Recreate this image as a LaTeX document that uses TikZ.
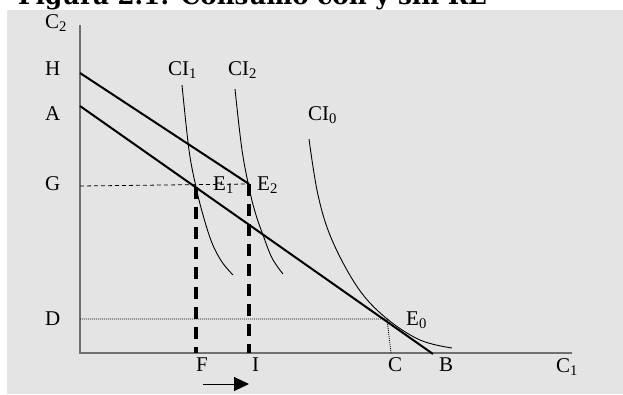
\documentclass[tikz,border=0pt]{standalone}
\usepackage{fontspec}
\setmainfont{Liberation Serif}
\newfontfamily\titlefont{DejaVu Serif}
\usetikzlibrary{arrows.meta}
\definecolor{bggray}{HTML}{E4E4E4}
\definecolor{axisgray}{HTML}{707070}
\begin{document}
\begin{tikzpicture}[x=1pt,y=-1pt,
  lbl/.style={anchor=base west,inner sep=0pt,font=\fontsize{21}{25}\selectfont},
  axisline/.style={draw=axisgray,line width=1.5pt},
  budget/.style={line width=2pt},
  icurve/.style={line width=0.9pt},
  thickdash/.style={line width=3.3pt,dash pattern=on 12pt off 8pt},
  thindash/.style={line width=0.8pt,dash pattern=on 4pt off 3pt},
  dotline/.style={line width=0.8pt,dash pattern=on 1pt off 1pt}]
\useasboundingbox (0,0) rectangle (623,394);
\fill[bggray] (7,10) rectangle (623,394);
% title (cropped at top, as in the reference)
\node[anchor=base west,inner sep=0pt,font=\titlefont\bfseries\fontsize{24.6}{28}\selectfont] (title) at (18,4) {Figura 2.1: Consumo con y sin RE};
% coordinates
\coordinate (O) at (80,353);
\coordinate (Ytop) at (80,25);
\coordinate (Xend) at (572,353);
\coordinate (H0) at (80,73);
\coordinate (E2) at (249,184);
\coordinate (A0) at (80,106);
\coordinate (B0) at (433,354);
\coordinate (E1) at (196,187);
\coordinate (G0) at (80,186);
\coordinate (F0) at (196,353);
\coordinate (I0) at (249,353);
\coordinate (D0) at (80,319);
\coordinate (E0) at (387,319);
\coordinate (C0) at (391,353);
\coordinate (ar1) at (203,384);
\coordinate (ar2) at (249,384);
% axes
\draw[axisline] (Ytop) -- (O) -- (Xend);
% guide lines
\draw[thindash] (G0) -- (E2);
\draw[dotline] (D0) -- (E0) -- (C0);
\draw[thickdash] (E1) -- (F0);
\draw[thickdash] (E2) -- (I0);
% budget lines
\draw[budget] (H0) -- (E2);
\draw[budget] (A0) -- (B0);
% indifference curves
\draw[icurve] plot[smooth,tension=0.6] coordinates {(182,85) (189,150) (196,187) (203,215) (212,243) (222,262) (233,275)};
\draw[icurve] plot[smooth,tension=0.6] coordinates {(235,89) (242,150) (250,192) (256,215) (263,235) (272,258) (283,274)};
\draw[icurve] plot[smooth,tension=0.6] coordinates {(309,139) (318,195) (332,240) (358,288) (386,318) (420,340) (452,348)};
% arrow
\draw[line width=1pt,-{Triangle[length=15pt,width=14pt]}] (ar1) -- (ar2);
% labels
\node[lbl] (lC2) at (45,28) {C\textsubscript{2}};
\node[lbl] (lH) at (45,75) {H};
\node[lbl] (lA) at (45,120) {A};
\node[lbl] (lG) at (45,190) {G};
\node[lbl] (lD) at (45,325) {D};
\node[lbl] (lCI1) at (168,75) {CI\textsubscript{1}};
\node[lbl] (lCI2) at (228,75) {CI\textsubscript{2}};
\node[lbl] (lCI0) at (308,120) {CI\textsubscript{0}};
\node[lbl] (lE1) at (213,190) {E\textsubscript{1}};
\node[lbl] (lE2) at (257,190) {E\textsubscript{2}};
\node[lbl] (lE0) at (406,325) {E\textsubscript{0}};
\node[lbl] (lF) at (196,371) {F};
\node[lbl] (lI) at (252,371) {I};
\node[lbl] (lC) at (388,371) {C};
\node[lbl] (lB) at (439,371) {B};
\node[lbl] (lC1) at (556,372) {C\textsubscript{1}};
\end{tikzpicture}
\end{document}
